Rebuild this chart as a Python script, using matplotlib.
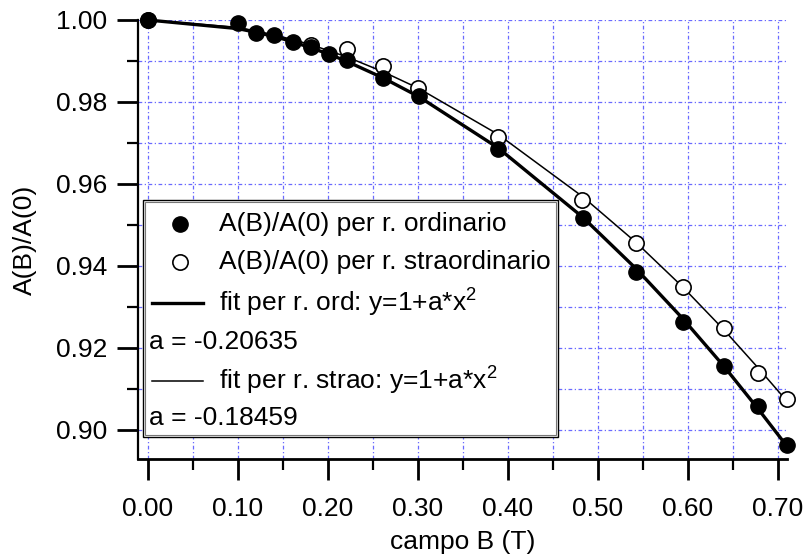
import numpy as np
import matplotlib.pyplot as plt
from matplotlib.lines import Line2D
from matplotlib.patches import Rectangle
from matplotlib.ticker import MultipleLocator, FormatStrFormatter

plt.rcParams['font.family'] = ['Liberation Sans', 'DejaVu Sans']
plt.rcParams['mathtext.fontset'] = 'custom'
plt.rcParams['mathtext.rm'] = 'Liberation Sans'
plt.rcParams['mathtext.it'] = 'Liberation Sans'

# --- data ---
x_ord = [0.000, 0.100, 0.120, 0.140, 0.161, 0.181, 0.201, 0.221, 0.261, 0.301,
         0.389, 0.483, 0.542, 0.594, 0.640, 0.678, 0.710]
y_ord = [1.0000, 0.9993, 0.9968, 0.9963, 0.9946, 0.9934, 0.9917, 0.9902, 0.9858, 0.9814,
         0.9685, 0.9517, 0.9385, 0.9263, 0.9156, 0.9059, 0.8963]

x_stra = [0.000, 0.181, 0.221, 0.261, 0.300, 0.389, 0.482, 0.542, 0.594, 0.640, 0.678, 0.710]
y_stra = [1.0000, 0.9939, 0.9929, 0.9888, 0.9834, 0.9715, 0.9560, 0.9456, 0.9349, 0.9249,
          0.9139, 0.9076]

# fit curves (values of y=1+a*x^2)
x_fit = [0.000, 0.100, 0.120, 0.140, 0.161, 0.181, 0.201, 0.221, 0.261, 0.301,
         0.389, 0.483, 0.542, 0.594, 0.640, 0.678, 0.710]
y_fit_ord = [1.0000, 0.9979, 0.9970, 0.9960, 0.9947, 0.9932, 0.9917, 0.9899, 0.9859, 0.9813,
             0.9688, 0.9519, 0.9394, 0.9272, 0.9155, 0.9051, 0.8960]
y_fit_stra = [1.0000, 0.9982, 0.9973, 0.9964, 0.9952, 0.9940, 0.9925, 0.9910, 0.9874, 0.9833,
              0.9721, 0.9569, 0.9458, 0.9349, 0.9244, 0.9151, 0.9070]

legend_labels = ["A(B)/A(0) per r. ordinario",
                 "A(B)/A(0) per r. straordinario",
                 "fit per r. ord: y=1+a*x$^{2}$",
                 "a = -0.20635",
                 "fit per r. strao: y=1+a*x$^{2}$",
                 "a = -0.18459"]

W, H = 806, 555
fig = plt.figure(figsize=(W / 100, H / 100), dpi=100)

def fx(px):
    return px / W

def fy(py):
    return 1 - py / H

ax = fig.add_axes([fx(138), fy(459), fx(787) - fx(138), fy(20) - fy(459)])

grid_col = '#6a6aff'
ax.xaxis.set_major_locator(MultipleLocator(0.10))
ax.xaxis.set_minor_locator(MultipleLocator(0.05))
ax.yaxis.set_major_locator(MultipleLocator(0.02))
ax.yaxis.set_minor_locator(MultipleLocator(0.01))
ax.xaxis.set_major_formatter(FormatStrFormatter('%.2f'))
ax.yaxis.set_major_formatter(FormatStrFormatter('%.2f'))
ax.grid(True, which='both', color=grid_col, lw=0.9, linestyle=(0, (3, 2, 1, 2)))
ax.set_axisbelow(True)

ms = 11
ax.plot(x_fit, y_fit_ord, color='black', lw=2.4, zorder=3, clip_on=False)
ax.plot(x_fit, y_fit_stra, color='black', lw=1.1, zorder=3, clip_on=False)
ax.plot(x_stra, y_stra, 'o', ms=ms, mfc='white', mec='black', mew=1.2, zorder=4, clip_on=False)
ax.plot(x_ord, y_ord, 'o', ms=ms, mfc='black', mec='black', zorder=5, clip_on=False)

ax.set_xlim(-0.011, 0.71)
ax.set_ylim(0.8929, 1.0)

for s in ['top', 'right']:
    ax.spines[s].set_visible(False)
ax.spines['left'].set_linewidth(1.6)
ax.spines['bottom'].set_linewidth(2.0)

fs = 19
ax.tick_params(which='major', direction='out', length=15, width=2.0, labelsize=fs)
ax.tick_params(which='minor', direction='out', length=8, width=1.6)
ax.tick_params(axis='x', which='major', pad=12)
ax.tick_params(axis='y', which='major', pad=7)

ax.set_xlabel('campo B (T)', fontsize=fs, labelpad=7)
ax.set_ylabel('A(B)/A(0)', fontsize=fs, labelpad=14)

# --- legend box drawn by hand ---
fig.patches.append(Rectangle((fx(143), fy(437)), fx(558) - fx(143), fy(200) - fy(437),
                             transform=fig.transFigure, facecolor='white',
                             edgecolor='black', lw=1.0, zorder=10))
fig.patches.append(Rectangle((fx(145), fy(435)), fx(556) - fx(145), fy(202) - fy(435),
                             transform=fig.transFigure, facecolor='none',
                             edgecolor='#777777', lw=0.8, zorder=11))

fig.add_artist(Line2D([fx(180)], [fy(224)], marker='o', ms=ms, mfc='black', mec='black',
                      transform=fig.transFigure, zorder=12))
fig.add_artist(Line2D([fx(180)], [fy(262)], marker='o', ms=ms, mfc='white', mec='black',
                      mew=1.2, transform=fig.transFigure, zorder=12))
fig.add_artist(Line2D([fx(152), fx(203)], [fy(303), fy(303)], color='black', lw=2.4,
                      transform=fig.transFigure, zorder=12))
fig.add_artist(Line2D([fx(152), fx(203)], [fy(381), fy(381)], color='black', lw=1.1,
                      transform=fig.transFigure, zorder=12))

text_pos = [(219, 224), (219, 262), (219, 303), (149, 342), (219, 381), (149, 418)]
for (tx, ty), lab in zip(text_pos, legend_labels):
    fig.text(fx(tx), fy(ty), lab, fontsize=fs, ha='left', va='center', zorder=13)

fig.savefig('out.png', dpi=100)
